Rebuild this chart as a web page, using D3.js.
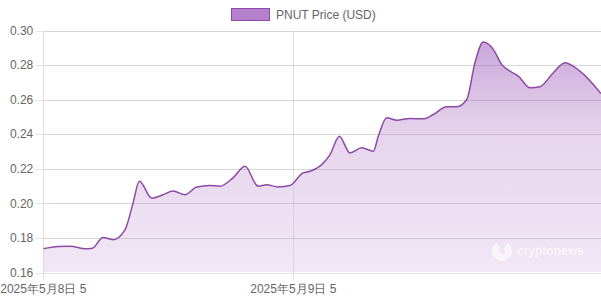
<!DOCTYPE html>
<html>
<head>
<meta charset="utf-8">
<script src="https://cdn.jsdelivr.net/npm/d3@7"></script>
<style>
body { margin: 0; background: #fff; }
svg { display: block; font-family: "Liberation Sans", Arial, sans-serif; }
</style>
</head>
<body>
<div id="plot"></div>
<script>
// hours after 2025-05-08 05:00 and the price read at that moment
var hours = [0, 1.41, 2.59, 4.03, 4.7, 5.73, 6.69, 7.84, 8.61, 9.22, 10.41, 11.49, 12.45, 13.6,
	14.73, 16.0, 16.96, 18.21, 19.36, 20.61, 21.45, 22.53, 23.68, 24.93, 25.6, 26.73, 27.53,
	28.42, 29.44, 30.57, 31.68, 32.16, 32.97, 33.93, 35.2, 36.48, 37.44, 38.73, 39.69, 40.65,
	41.44, 42.24, 43.2, 44.0, 44.8, 45.6, 46.72, 47.68, 48.96, 50.08, 51.52, 53.54];
var prices = [0.1737, 0.1750, 0.1752, 0.1737, 0.1740, 0.1803, 0.1790, 0.1847, 0.2000, 0.2128,
	0.2030, 0.2050, 0.2072, 0.2050, 0.2095, 0.2104, 0.2099, 0.2147, 0.2214, 0.2100, 0.2107,
	0.2095, 0.2103, 0.2176, 0.2186, 0.2224, 0.2282, 0.2388, 0.2292, 0.2321, 0.2302, 0.2388,
	0.2495, 0.2481, 0.2491, 0.2489, 0.2514, 0.2559, 0.2559, 0.2601, 0.2814, 0.2933, 0.2891,
	0.2804, 0.2765, 0.2736, 0.2669, 0.2675, 0.2756, 0.2814, 0.2765, 0.2635];
var yTicks = [0.16, 0.18, 0.20, 0.22, 0.24, 0.26, 0.28, 0.30];
var xTickLabels = ["2025年5月8日 5", "2025年5月9日 5"];
var seriesName = "PNUT Price (USD)";

var W = 601, H = 300;
var plotLeft = 43.3, plotTop = 30.5, plotBottom = 272.5;

var start = new Date(2025, 4, 8, 5, 0);
var xTicks = [new Date(2025, 4, 8, 5, 0), new Date(2025, 4, 9, 5, 0)];

var x = d3.scaleTime()
	.domain(xTicks)
	.range([plotLeft, plotLeft + 250]);
var y = d3.scaleLinear()
	.domain([0.16, 0.30])
	.range([plotBottom, plotTop]);

var data = hours.map(function(h, i) {
	return {t: new Date(start.getTime() + h * 3600000), v: prices[i]};
});

var svg = d3.select("#plot").append("svg")
	.attr("width", W)
	.attr("height", H);

var defs = svg.append("defs");
var grad = defs.append("linearGradient")
	.attr("id", "fillGrad")
	.attr("gradientUnits", "userSpaceOnUse")
	.attr("x1", 0).attr("x2", 0)
	.attr("y1", plotTop).attr("y2", plotBottom);
grad.append("stop").attr("offset", "0%").attr("stop-color", "#b27fc8").attr("stop-opacity", 0.75);
grad.append("stop").attr("offset", "45%").attr("stop-color", "#c8a3d8").attr("stop-opacity", 0.45);
grad.append("stop").attr("offset", "100%").attr("stop-color", "#dcc3e6").attr("stop-opacity", 0.4);

defs.append("clipPath").attr("id", "plotClip")
	.append("rect")
	.attr("x", plotLeft).attr("y", 0)
	.attr("width", W - plotLeft).attr("height", plotBottom);

// horizontal grid + y labels
var yAxis = svg.append("g");
yAxis.selectAll("line")
	.data(yTicks)
	.enter().append("line")
	.attr("x1", plotLeft - 8)
	.attr("x2", W)
	.attr("y1", function(d) { return Math.round(y(d)) + 0.5; })
	.attr("y2", function(d) { return Math.round(y(d)) + 0.5; })
	.attr("stroke", "#e5e5e5")
	.attr("stroke-width", 1);
yAxis.selectAll("text")
	.data(yTicks)
	.enter().append("text")
	.attr("x", plotLeft - 10)
	.attr("y", function(d) { return y(d); })
	.attr("dy", "0.35em")
	.attr("text-anchor", "end")
	.attr("font-size", 12)
	.attr("fill", "#666")
	.text(function(d) { return d3.format(".2f")(d); });

// vertical grid + x labels
var xAxis = svg.append("g");
xAxis.selectAll("line")
	.data(xTicks)
	.enter().append("line")
	.attr("x1", function(d) { return Math.round(x(d)) + 0.5; })
	.attr("x2", function(d) { return Math.round(x(d)) + 0.5; })
	.attr("y1", plotTop)
	.attr("y2", plotBottom + 8)
	.attr("stroke", "#e0e0e0")
	.attr("stroke-width", 1);
xAxis.selectAll("text")
	.data(xTicks)
	.enter().append("text")
	.attr("x", function(d) { return x(d); })
	.attr("y", 293)
	.attr("text-anchor", "middle")
	.attr("font-size", 12)
	.attr("fill", "#666")
	.text(function(d, i) { return xTickLabels[i]; });

var plot = svg.append("g").attr("clip-path", "url(#plotClip)");

var area = d3.area()
	.x(function(d) { return x(d.t); })
	.y0(plotBottom)
	.y1(function(d) { return y(d.v); })
	.curve(d3.curveMonotoneX);

var line = d3.line()
	.x(function(d) { return x(d.t); })
	.y(function(d) { return y(d.v); })
	.curve(d3.curveMonotoneX);

plot.append("path")
	.datum(data)
	.attr("d", area)
	.attr("fill", "url(#fillGrad)");

// gridlines show faintly through the fill
plot.append("g").selectAll("line")
	.data(yTicks)
	.enter().append("line")
	.attr("x1", plotLeft).attr("x2", W)
	.attr("y1", function(d) { return Math.round(y(d)) + 0.5; })
	.attr("y2", function(d) { return Math.round(y(d)) + 0.5; })
	.attr("stroke", "rgba(0,0,0,0.06)");

plot.append("path")
	.datum(data)
	.attr("d", line)
	.attr("fill", "none")
	.attr("stroke", "#8e4aa6")
	.attr("stroke-width", 1.5);

// watermark
var wm = svg.append("g").attr("opacity", 0.6);
wm.append("path")
	.attr("d", d3.arc()({innerRadius: 3, outerRadius: 10, startAngle: 0.6, endAngle: 2 * Math.PI - 0.6}))
	.attr("transform", "translate(502,251)")
	.attr("fill", "#fff");
wm.append("text")
	.attr("x", 517)
	.attr("y", 255)
	.attr("font-size", 12)
	.attr("font-weight", "bold")
	.attr("fill", "#fff")
	.text("cryptonews");

// legend
var legend = svg.append("g");
legend.append("rect")
	.attr("x", 231.5).attr("y", 8.5)
	.attr("width", 38).attr("height", 12)
	.attr("fill", "#b580cb")
	.attr("stroke", "#8e4aa6")
	.attr("stroke-width", 1);
legend.append("text")
	.attr("x", 276)
	.attr("y", 19)
	.attr("font-size", 12)
	.attr("fill", "#666")
	.text(seriesName);
</script>
</body>
</html>
